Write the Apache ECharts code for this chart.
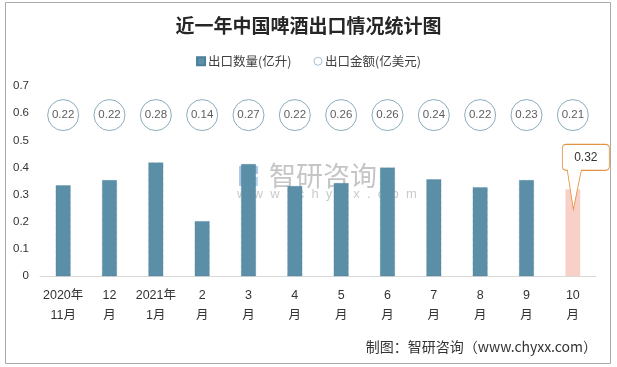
<!DOCTYPE html>
<html><head><meta charset="utf-8">
<script src="https://cdn.jsdelivr.net/npm/echarts@6/dist/echarts.min.js"></script>
<style>html,body{margin:0;padding:0;background:#fff}#c{width:617px;height:367px}</style>
</head><body><div id="c"></div>
<script>
var categories = ['2020年\n11月','12\n月','2021年\n1月','2\n月','3\n月','4\n月','5\n月','6\n月','7\n月','8\n月','9\n月','10\n月'];
var exportVolume = [0.335, 0.354, 0.419, 0.203, 0.413, 0.332, 0.343, 0.40, 0.357, 0.328, 0.354, 0.32];
var exportValue = [0.22, 0.22, 0.28, 0.14, 0.27, 0.22, 0.26, 0.26, 0.24, 0.22, 0.23, 0.21];
var yTicks = [0, 0.1, 0.2, 0.3, 0.4, 0.5, 0.6, 0.7];
var seriesNames = ['出口数量(亿升)', '出口金额(亿美元)'];
var titleText = '近一年中国啤酒出口情况统计图';
var sourceText = '制图：智研咨询（www.chyxx.com）';

var CIRCLE_ROW = 0.593;
var FONT = "'Liberation Sans','Noto Sans CJK SC',sans-serif";
var BAR = '#5b8fa7';
var HIGHLIGHT = '#f8d0c7';
var last = exportVolume.length - 1;

var barData = exportVolume.map(function (v, i) {
  return i === last ? { value: v, itemStyle: { color: HIGHLIGHT, borderColor: HIGHLIGHT } } : v;
});
var circleData = exportValue.map(function (v, i) { return { value: [i, CIRCLE_ROW], amount: v }; });

var chart = echarts.init(document.getElementById('c'), null, { renderer: 'canvas' });
chart.setOption({
  animation: false,
  backgroundColor: '#fff',
  title: {
    text: titleText, left: 'center', top: 11,
    textStyle: { fontFamily: "'Noto Sans CJK SC',sans-serif", fontSize: 19, fontWeight: 'bold', color: '#262626' }
  },
  legend: {
    top: 50, left: 'center', itemGap: 22, itemWidth: 8, itemHeight: 8,
    textStyle: { fontFamily: "'Noto Sans CJK SC',sans-serif", fontSize: 12.5, color: '#404040', padding: [0, 0, 0, -2] },
    data: [
      { name: seriesNames[0], icon: 'rect' },
      { name: seriesNames[1], icon: 'circle', itemStyle: { color: '#fff', borderColor: '#8fb0c4', borderWidth: 1 } }
    ]
  },
  grid: { left: 40, right: 21, top: 86, bottom: 90.7 },
  xAxis: {
    type: 'category', data: categories,
    axisLine: { lineStyle: { color: '#d9d9d9', width: 1 } },
    axisTick: { show: false },
    axisLabel: { interval: 0, margin: 9, lineHeight: 20, fontFamily: FONT, fontSize: 12.5, color: '#333' }
  },
  yAxis: {
    type: 'value', min: 0, max: 0.7, interval: 0.1,
    axisLine: { show: false }, axisTick: { show: false }, splitLine: { show: false },
    axisLabel: { margin: 11, fontFamily: FONT, fontSize: 11.5, color: '#333',
      formatter: function (v) { var t = yTicks.filter(function (k) { return Math.abs(k - v) < 1e-6; })[0]; return t === undefined ? '' : String(t); } }
  },
  series: [
    {
      name: seriesNames[0], type: 'bar', data: barData, barWidth: 15,
      itemStyle: { color: BAR, borderColor: '#4d7f97', borderWidth: 0.6, borderType: 'dotted' },
      markPoint: {
        silent: true,
        data: [{
          coord: [last, exportVolume[last]],
          symbol: 'path://M4,0 L43,0 Q47,0 47,4 L47,22 Q47,26 43,26 L19,26 L11,65 L5,26 L4,26 Q0,26 0,22 L0,4 Q0,0 4,0 Z',
          symbolSize: [47, 65],
          symbolOffset: [13, -12.5],
          itemStyle: { color: '#fff', borderColor: '#e39443', borderWidth: 1 },
          label: { show: true, position: 'inside', offset: [0, -19.5], formatter: String(exportVolume[last]),
            fontFamily: FONT, fontSize: 12, color: '#333' }
        }]
      }
    },
    {
      name: seriesNames[1], type: 'scatter', data: circleData, symbol: 'circle', symbolSize: 31,
      itemStyle: { color: '#fff', borderColor: '#6f98ad', borderWidth: 1 },
      label: { show: true, position: 'inside', formatter: function (p) { return p.data.amount.toFixed(2); },
        fontFamily: FONT, fontSize: 11.5, color: '#333' },
      z: 3
    }
  ],
  graphic: [
    { type: 'rect', shape: { x: 5.5, y: 2.5, width: 605, height: 361 }, style: { fill: 'none', stroke: '#aaaaaa', lineWidth: 1 }, silent: true, z: 100 },
    { type: 'group', z: 50, silent: true, children: [
      { type: 'rect', shape: { x: 239, y: 166, width: 7, height: 20 }, style: { fill: 'rgba(90,150,210,0.5)' } },
      { type: 'rect', shape: { x: 246, y: 166, width: 12, height: 8 }, style: { fill: 'rgba(90,150,210,0.5)' } },
      { type: 'rect', shape: { x: 250, y: 177, width: 8, height: 9 }, style: { fill: 'rgba(110,185,235,0.5)' } },
      { type: 'text', x: 269, y: 162, style: { text: '智研咨询', fontFamily: "'Noto Sans CJK SC',sans-serif", fontSize: 27, fill: 'rgba(150,150,150,0.55)' } },
      { type: 'text', x: 237, y: 188, style: { text: 'w  w  w  .  c  h  y  x  x  .  c  o  m', fontFamily: FONT, fontSize: 13, fill: 'rgba(150,150,150,0.5)' } }
    ] },
    { type: 'text', right: 20, top: 340, silent: true, style: { text: sourceText, fontFamily: "'Noto Sans CJK SC',sans-serif", fontSize: 14, fill: '#333' } }
  ]
});
</script>
</body></html>
